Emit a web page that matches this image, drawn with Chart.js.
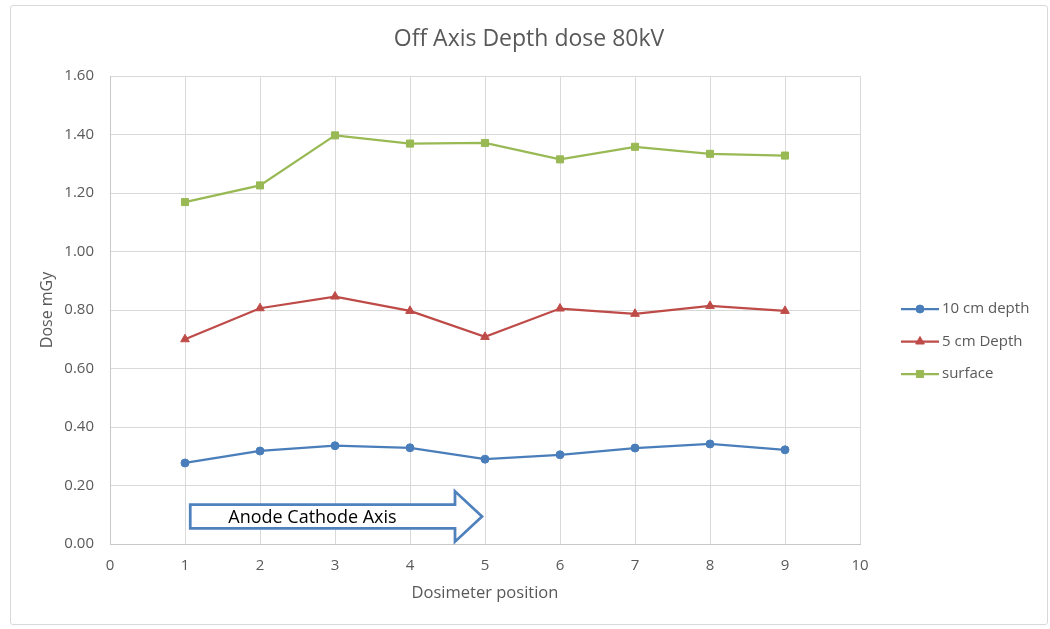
<!DOCTYPE html>
<html>
<head>
<meta charset="utf-8">
<title>Off Axis Depth dose 80kV</title>
<script src="https://cdn.jsdelivr.net/npm/chart.js@4.4.1/dist/chart.umd.min.js"></script>
<style>
  html, body { margin: 0; padding: 0; background: #ffffff; }
  #wrap { position: relative; width: 1050px; height: 629px; }
  #frame { position: absolute; left: 10px; top: 5px; width: 1036px; height: 618px;
           border: 1px solid #d9d9d9; border-radius: 3px; pointer-events: none; }
  canvas { position: absolute; left: 0; top: 0; }
</style>
</head>
<body>
<div id="wrap">
  <canvas id="chart" width="1050" height="629"></canvas>
  <div id="frame"></div>
</div>
<script>
// Dosimeter positions along the table
const positions = [1, 2, 3, 4, 5, 6, 7, 8, 9];

// Measured dose (mGy) at each position
const depth10cm = [0.277, 0.318, 0.336, 0.329, 0.290, 0.305, 0.328, 0.342, 0.322];
const depth5cm  = [0.700, 0.806, 0.846, 0.797, 0.708, 0.805, 0.787, 0.814, 0.797];
const surface   = [1.169, 1.226, 1.397, 1.369, 1.371, 1.315, 1.358, 1.334, 1.328];

const seriesNames = ['10 cm depth', '5 cm Depth', 'surface'];

// Axis ranges
const xRange = { min: 0, max: 10, step: 1 };
const yRange = { min: 0, max: 1.6, step: 0.2 };

const chartTitle = 'Off Axis Depth dose 80kV';
const xTitle = 'Dosimeter position';
const yTitle = 'Dose mGy';
const arrowLabel = 'Anode Cathode Axis';

const FONT = "'Open Sans', 'Liberation Sans', sans-serif";
const TEXT = '#595959';

const toPoints = vals => positions.map((p, i) => ({ x: p, y: vals[i] }));

const seriesStyles = [
  { color: '#4a7ebb', point: 'circle',   radius: 4 },
  { color: '#be4b48', point: 'triangle', radius: 5 },
  { color: '#98b954', point: 'rect',     radius: 5 }
];

const datasets = [depth10cm, depth5cm, surface].map((vals, i) => ({
  label: seriesNames[i],
  data: toPoints(vals),
  borderColor: seriesStyles[i].color,
  backgroundColor: seriesStyles[i].color,
  pointBackgroundColor: seriesStyles[i].color,
  pointBorderColor: seriesStyles[i].color,
  pointStyle: seriesStyles[i].point,
  pointRadius: seriesStyles[i].radius,
  pointBorderWidth: 1,
  borderWidth: 2.25,
  tension: 0,
  fill: false
}));

// Chart heading
const titlePlugin = {
  id: 'heading',
  afterDraw(chart) {
    const ctx = chart.ctx;
    ctx.save();
    ctx.fillStyle = TEXT;
    ctx.font = `23px ${FONT}`;
    ctx.textAlign = 'center';
    ctx.textBaseline = 'middle';
    ctx.fillText(chartTitle, 529, 39);
    ctx.restore();
  }
};

// Legend on the right with line + marker samples
const sideLegend = {
  id: 'sideLegend',
  afterDraw(chart) {
    const ctx = chart.ctx;
    ctx.save();
    chart.data.datasets.forEach((ds, i) => {
      const y = 309 + i * 32.5;
      ctx.strokeStyle = ds.borderColor;
      ctx.lineWidth = 2.25;
      ctx.beginPath();
      ctx.moveTo(901, y);
      ctx.lineTo(939, y);
      ctx.stroke();
      ctx.fillStyle = ds.backgroundColor;
      ctx.strokeStyle = ds.borderColor;
      ctx.lineWidth = 1;
      Chart.helpers.drawPoint(ctx, { pointStyle: ds.pointStyle, radius: ds.pointRadius, borderWidth: 1, rotation: 0 }, 920, y);
      ctx.fillStyle = TEXT;
      ctx.font = `15px ${FONT}`;
      ctx.textAlign = 'left';
      ctx.textBaseline = 'middle';
      ctx.fillText(ds.label, 942, y);
    });
    ctx.restore();
  }
};

// Block arrow marking the anode-cathode direction, placed in data units
const arrowSpec = { x0: 1.07, xHead: 4.6, xTip: 4.96, yMid: 0.094, bodyHalf: 0.041, headHalf: 0.086 };
const arrowPlugin = {
  id: 'axisArrow',
  afterDatasetsDraw(chart) {
    const { ctx, scales: { x, y } } = chart;
    const a = arrowSpec;
    const X0 = x.getPixelForValue(a.x0), XH = x.getPixelForValue(a.xHead), XT = x.getPixelForValue(a.xTip);
    const YM = y.getPixelForValue(a.yMid);
    const bT = y.getPixelForValue(a.yMid + a.bodyHalf), bB = y.getPixelForValue(a.yMid - a.bodyHalf);
    const hT = y.getPixelForValue(a.yMid + a.headHalf), hB = y.getPixelForValue(a.yMid - a.headHalf);
    ctx.save();
    ctx.beginPath();
    ctx.moveTo(X0, bT);
    ctx.lineTo(XH, bT);
    ctx.lineTo(XH, hT);
    ctx.lineTo(XT, YM);
    ctx.lineTo(XH, hB);
    ctx.lineTo(XH, bB);
    ctx.lineTo(X0, bB);
    ctx.closePath();
    ctx.fillStyle = '#ffffff';
    ctx.fill();
    ctx.lineJoin = 'miter';
    ctx.lineWidth = 2.75;
    ctx.strokeStyle = '#4f81bd';
    ctx.stroke();
    ctx.fillStyle = '#000000';
    ctx.font = `18px ${FONT}`;
    ctx.textAlign = 'left';
    ctx.textBaseline = 'middle';
    ctx.fillText(arrowLabel, X0 + 38, YM + 1);
    ctx.restore();
  }
};

new Chart(document.getElementById('chart'), {
  type: 'line',
  data: { datasets },
  options: {
    responsive: false,
    animation: false,
    devicePixelRatio: 1,
    layout: { padding: { top: 76, right: 190, bottom: 0, left: 0 } },
    plugins: {
      legend: { display: false },
      title: { display: false },
      tooltip: { enabled: false }
    },
    scales: {
      x: {
        type: 'linear',
        min: xRange.min, max: xRange.max,
        afterFit(scale) { scale.height = 85; },
        ticks: { stepSize: xRange.step, color: TEXT, font: { family: FONT, size: 15 }, padding: 13 },
        grid: { color: '#d9d9d9', lineWidth: 1, drawTicks: false },
        border: { color: '#c8c8c8', width: 1 },
        title: { display: true, text: xTitle, color: TEXT, font: { family: FONT, size: 16.5 }, padding: { top: 0, bottom: 26 } }
      },
      y: {
        type: 'linear',
        min: yRange.min, max: yRange.max,
        afterFit(scale) { scale.width = 110; },
        ticks: { stepSize: yRange.step, color: TEXT, font: { family: FONT, size: 15 }, padding: 16,
                 callback: v => Number(v).toFixed(2) },
        grid: { color: '#d9d9d9', lineWidth: 1, drawTicks: false },
        border: { color: '#c8c8c8', width: 1 },
        title: { display: true, text: yTitle, color: TEXT, font: { family: FONT, size: 16 }, padding: { top: 38, bottom: 0 } }
      }
    }
  },
  plugins: [titlePlugin, sideLegend, arrowPlugin]
});
</script>
</body>
</html>
